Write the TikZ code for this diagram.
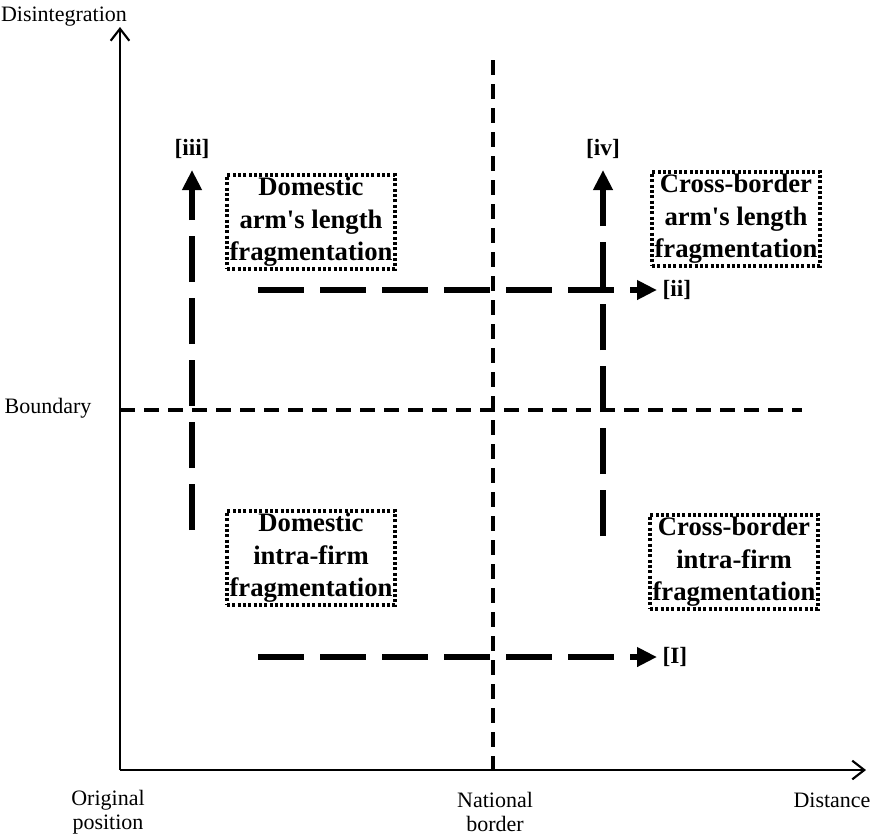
\documentclass[tikz,border=0pt]{standalone}
\usepackage{fontspec}
\setmainfont{Liberation Serif}
\usetikzlibrary{arrows.meta,positioning}
\tikzset{axis/.style={line width=1.6pt,-{Straight Barb[length=9pt,width=14pt,line width=1.6pt]}}}
\tikzset{thinsplit/.style={line width=2.6pt,dash pattern=on 11pt off 7pt}}
\tikzset{movearrow/.style={line width=4.8pt,dash pattern=on 34.5pt off 12pt,-{Triangle[length=15pt,width=14pt]}}}
\tikzset{quadbox/.style={draw,line width=2.6pt,dash pattern=on 2.4pt off 1.6pt,align=center,inner xsep=2pt,inner ysep=1.5pt,font=\bfseries\fontsize{20}{24.5}\selectfont}}
\tikzstyle{lbl}=[align=center,inner sep=0pt,font=\fontsize{16.5}{18}\selectfont]
\tikzstyle{tag}=[inner sep=0pt,font=\bfseries\fontsize{17.5}{18}\selectfont]

\begin{document}
\begin{tikzpicture}[x=0.75pt,y=-0.75pt]
\useasboundingbox (0,0) rectangle (880,836);
\coordinate (O) at (120,770);
\coordinate (Ytop) at (120,27);
\coordinate (Xend) at (866,770);
% split lines
\coordinate (Btop) at (493,60);
\coordinate (Bbot) at (493,770);
\coordinate (Hl) at (120,410);
\coordinate (Hr) at (802,410);
\draw[thinsplit] (Btop) -- (Bbot);
\draw[thinsplit] (Hl) -- (Hr);
\draw[axis] (O) -- (Ytop);
\draw[axis] (O) -- (Xend);

\node[lbl] (dis) at (64,17) {Disintegration};
\node[lbl] (bnd) at (48,408) {Boundary};
\node[lbl] (orig) at (108,812) {Original\\position};
\node[lbl] (nat) at (495,812) {National\\border};
\node[lbl] (dst) at (832,800) {Distance};

\node[quadbox] (DA) at (311,222) {Domestic\\arm\textquotesingle s length\\fragmentation};
\node[quadbox] (CA) at (736,219) {Cross-border\\arm\textquotesingle s length\\fragmentation};
\node[quadbox] (DI) at (311,558) {Domestic\\intra-firm\\fragmentation};
\node[quadbox] (CI) at (734,562) {Cross-border\\intra-firm\\fragmentation};

% moves
\coordinate (a1) at (258,290);
\coordinate (a2) at (657,290);
\coordinate (b1) at (258,657);
\coordinate (b2) at (657,657);
\coordinate (c1) at (192,530);
\coordinate (c2) at (192,170);
\coordinate (d1) at (603,536);
\coordinate (d2) at (603,170);
\draw[movearrow] (a1) -- (a2);
\draw[movearrow] (b1) -- (b2);
\draw[movearrow] (c1) -- (c2);
\draw[movearrow] (d1) -- (d2);
\node[tag,right=4pt of a2] (tii) {[ii]};
\node[tag,right=4pt of b2] (tI) {[I]};
\node[tag,above=8pt of c2] (tiii) {[iii]};
\node[tag,above=8pt of d2] (tiv) {[iv]};
\end{tikzpicture}
\end{document}
